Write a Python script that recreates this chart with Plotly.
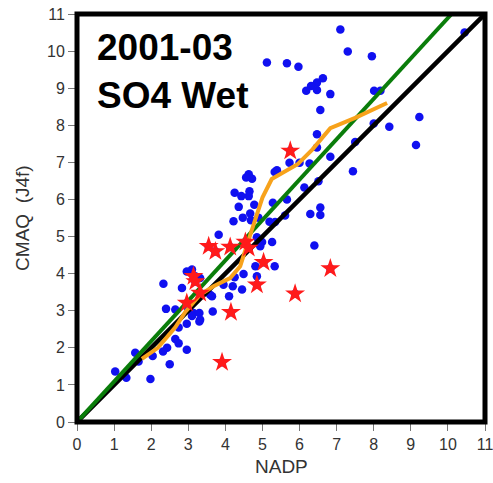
import plotly.graph_objects as go

# Blue dots: all sites (NADP observed, CMAQ modeled)
site_x = [10.45, 7.10, 7.30, 7.95, 5.12, 5.66, 5.97, 6.63, 6.47, 6.31, 6.18, 6.47, 6.83, 8.01, 8.18,
          6.56, 8.42, 8.00, 6.47, 6.47, 7.50, 6.83, 7.44, 5.73, 5.39, 5.33, 6.00, 6.27, 9.23, 9.14,
          6.51, 6.13, 5.66, 5.28, 6.56, 6.56, 6.29, 5.61, 5.19, 5.34, 4.99, 5.26, 6.40,
          4.63, 4.72, 4.56, 4.25, 4.43, 4.65, 4.63, 4.36, 4.78, 4.22, 4.47, 4.67, 4.69, 4.89,
          3.82, 4.85, 4.94, 4.81, 5.33, 4.49, 4.25, 4.85, 3.95, 4.20, 4.45, 4.10, 3.59, 3.64,
          3.66, 3.14, 3.30, 2.96, 3.30, 3.10, 2.96, 3.19, 3.32, 2.83, 3.00, 2.96,
          2.33, 2.40, 2.65, 3.10, 3.32, 2.74, 2.65, 2.74, 2.43, 2.32, 2.04, 1.57, 1.66, 2.50,
          1.03, 1.33, 1.98]
site_y = [10.50, 10.58, 9.99, 9.86, 9.69, 9.67, 9.58, 9.27, 9.15, 9.06, 8.93, 8.95, 8.84, 8.93, 8.93,
          8.41, 7.96, 8.05, 7.76, 7.40, 7.55, 7.15, 6.76, 6.99, 6.79, 6.74, 6.99, 6.97, 8.22, 7.47,
          6.49, 6.32, 6.00, 5.91, 5.78, 5.58, 5.61, 5.57, 5.40, 5.39, 4.85, 4.85, 4.76,
          6.68, 6.56, 6.59, 6.18, 6.09, 6.22, 6.09, 5.80, 5.86, 5.41, 5.51, 5.62, 5.44, 5.51,
          5.05, 4.98, 4.74, 4.20, 4.20, 3.99, 3.90, 3.93, 3.70, 3.66, 3.57, 3.39, 3.43, 3.39,
          2.98, 2.94, 2.94, 2.65, 2.71, 4.11, 4.06, 3.93, 3.88, 3.61, 3.03, 1.95,
          3.73, 3.05, 3.03, 2.86, 2.76, 2.55, 2.24, 2.12, 2.00, 1.90, 1.78, 1.87, 1.63, 1.56,
          1.36, 1.19, 1.16]

# Red stars: highlighted sites
star_x = [5.75, 3.55, 3.73, 4.13, 4.54, 4.63, 5.03, 3.14, 3.19, 3.32, 2.96, 4.85, 4.15, 5.88, 6.83, 3.91]
star_y = [7.31, 4.74, 4.60, 4.72, 4.85, 4.69, 4.31, 3.93, 3.79, 3.48, 3.21, 3.70, 2.96, 3.46, 4.14, 1.61]

# Reference 1:1 line, regression line, binned median line
one_x = [0, 11]
one_y = [0, 11]
reg_x = [0, 10.1]
reg_y = [0, 11]
med_x = [1.75, 2.18, 2.65, 2.92, 3.32, 3.68, 4.13, 4.40, 4.63, 4.85, 5.00, 5.25, 5.95, 6.35, 6.83, 7.50, 8.36]
med_y = [1.70, 2.00, 2.55, 2.97, 3.43, 3.66, 3.88, 4.20, 4.92, 5.64, 6.05, 6.55, 6.95, 7.35, 7.92, 8.20, 8.60]

ticks = list(range(0, 12))
title_text = "2001-03<br>SO4 Wet"
x_title = "NADP"
y_title = "CMAQ  (J4f)"

fig = go.Figure()
fig.add_trace(go.Scatter(x=site_x + star_x, y=site_y + star_y, mode="markers",
                         marker=dict(color="#1010f0", size=8.5, line=dict(width=0)),
                         showlegend=False, hoverinfo="skip"))
fig.add_trace(go.Scatter(x=one_x, y=one_y, mode="lines",
                         line=dict(color="black", width=4.5), showlegend=False))
fig.add_trace(go.Scatter(x=reg_x, y=reg_y, mode="lines",
                         line=dict(color="#0a7d0a", width=4), showlegend=False))
fig.add_trace(go.Scatter(x=med_x, y=med_y, mode="lines",
                         line=dict(color="#f7a21b", width=4), showlegend=False))
fig.add_trace(go.Scatter(x=star_x, y=star_y, mode="markers",
                         marker=dict(symbol="star", color="#ff1a1a", size=15, line=dict(width=0)),
                         showlegend=False))

axis_common = dict(range=[0, 11], tickvals=ticks, ticks="outside", ticklen=8, tickwidth=1,
                   tickcolor="#777", showgrid=False, zeroline=False, showline=False,
                   automargin=False, ticklabeloverflow="allow",
                   tickfont=dict(family="Liberation Sans, Arial", size=16, color="#333"))
fig.update_xaxes(**axis_common)
fig.update_yaxes(**axis_common)

fig.add_shape(type="rect", xref="paper", yref="paper", x0=0, y0=0, x1=1, y1=1,
              line=dict(color="black", width=5), layer="above")

fig.add_annotation(text="<b>" + title_text + "</b>", xref="paper", yref="paper",
                   x=0.045, y=0.973, xanchor="left", yanchor="top", align="left",
                   showarrow=False,
                   font=dict(family="Liberation Sans, Arial", size=37, color="black"))
fig.add_annotation(text=x_title, xref="paper", yref="paper", x=0.5, y=-0.108,
                   xanchor="center", yanchor="middle", showarrow=False,
                   font=dict(family="Liberation Sans, Arial", size=19, color="#333"))
fig.add_annotation(text=y_title, xref="paper", yref="paper", x=-0.135, y=0.5,
                   xanchor="center", yanchor="middle", textangle=-90, showarrow=False,
                   font=dict(family="Liberation Sans, Arial", size=19, color="#333"))

fig.update_layout(width=493, height=483, margin=dict(l=77, r=8, t=14, b=61),
                  plot_bgcolor="white", paper_bgcolor="white")
fig.write_html("out.html", config={"displayModeBar": False},
               post_script="document.body.style.margin='0';")
